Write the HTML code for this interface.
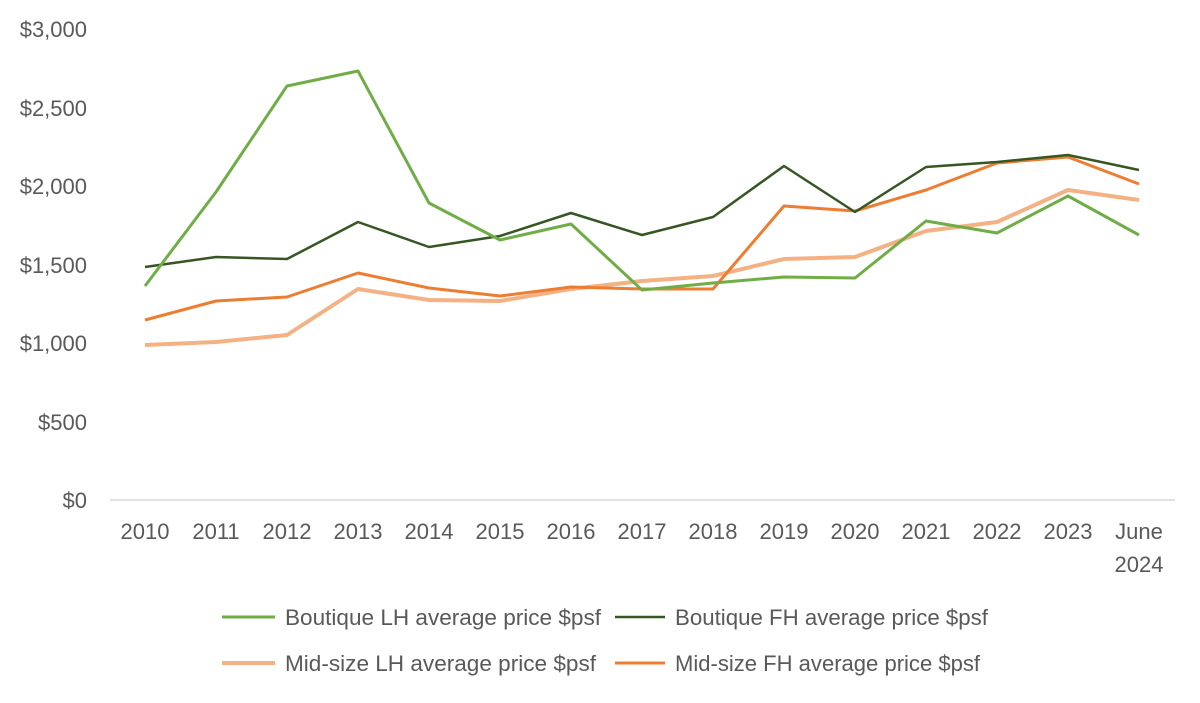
<!DOCTYPE html>
<html><head><style>body{margin:0;background:#fff}</style></head><body>
<svg width="1200" height="698" xmlns="http://www.w3.org/2000/svg" font-family="Liberation Sans, sans-serif" font-size="22" fill="#595959">
<line x1="110" y1="500" x2="1175" y2="500" stroke="#d9d9d9" stroke-width="1.5"/>
<g text-anchor="end">
<text x="87" y="508">$0</text><text x="87" y="430">$500</text><text x="87" y="351">$1,000</text><text x="87" y="273">$1,500</text><text x="87" y="194">$2,000</text><text x="87" y="116">$2,500</text><text x="87" y="37">$3,000</text>
</g>
<g text-anchor="middle">
<text x="145" y="539">2010</text><text x="216" y="539">2011</text><text x="287" y="539">2012</text><text x="358" y="539">2013</text><text x="429" y="539">2014</text><text x="500" y="539">2015</text><text x="571" y="539">2016</text><text x="642" y="539">2017</text><text x="713" y="539">2018</text><text x="784" y="539">2019</text><text x="855" y="539">2020</text><text x="926" y="539">2021</text><text x="997" y="539">2022</text><text x="1068" y="539">2023</text><text x="1139" y="539">June</text><text x="1139" y="572">2024</text>
</g>
<g fill="none" stroke-linejoin="round">
<polyline stroke="#f4b183" stroke-width="4" points="145,345 216,342 287,335 358,289 429,300 500,301 571,289 642,281 713,276 784,259 855,257 926,231 997,222 1068,190 1139,200"/>
<polyline stroke="#ed7d31" stroke-width="3" points="145,320 216,301 287,297 358,273 429,288 500,296 571,287 642,289 713,289 784,206 855,211 926,190 997,163 1068,157 1139,184"/>
<polyline stroke="#375623" stroke-width="2.5" points="145,267 216,257 287,259 358,222 429,247 500,236 571,213 642,235 713,217 784,166 855,212 926,167 997,162 1068,155 1139,170"/>
<polyline stroke="#70ad47" stroke-width="3" points="145,286 216,192 287,86 358,71 429,203 500,240 571,224 642,290 713,283 784,277 855,278 926,221 997,233 1068,196 1139,235"/>
</g>
<line x1="222" y1="617" x2="275" y2="617" stroke="#70ad47" stroke-width="3"/>
<text x="285" y="625" textLength="316" lengthAdjust="spacingAndGlyphs">Boutique LH average price $psf</text>
<line x1="615" y1="617" x2="665" y2="617" stroke="#375623" stroke-width="2.5"/>
<text x="675" y="625" textLength="313" lengthAdjust="spacingAndGlyphs">Boutique FH average price $psf</text>
<line x1="222" y1="663" x2="275" y2="663" stroke="#f4b183" stroke-width="4"/>
<text x="285" y="671" textLength="311" lengthAdjust="spacingAndGlyphs">Mid-size LH average price $psf</text>
<line x1="615" y1="663" x2="665" y2="663" stroke="#ed7d31" stroke-width="3"/>
<text x="675" y="671" textLength="305" lengthAdjust="spacingAndGlyphs">Mid-size FH average price $psf</text>
</svg>
</body></html>
